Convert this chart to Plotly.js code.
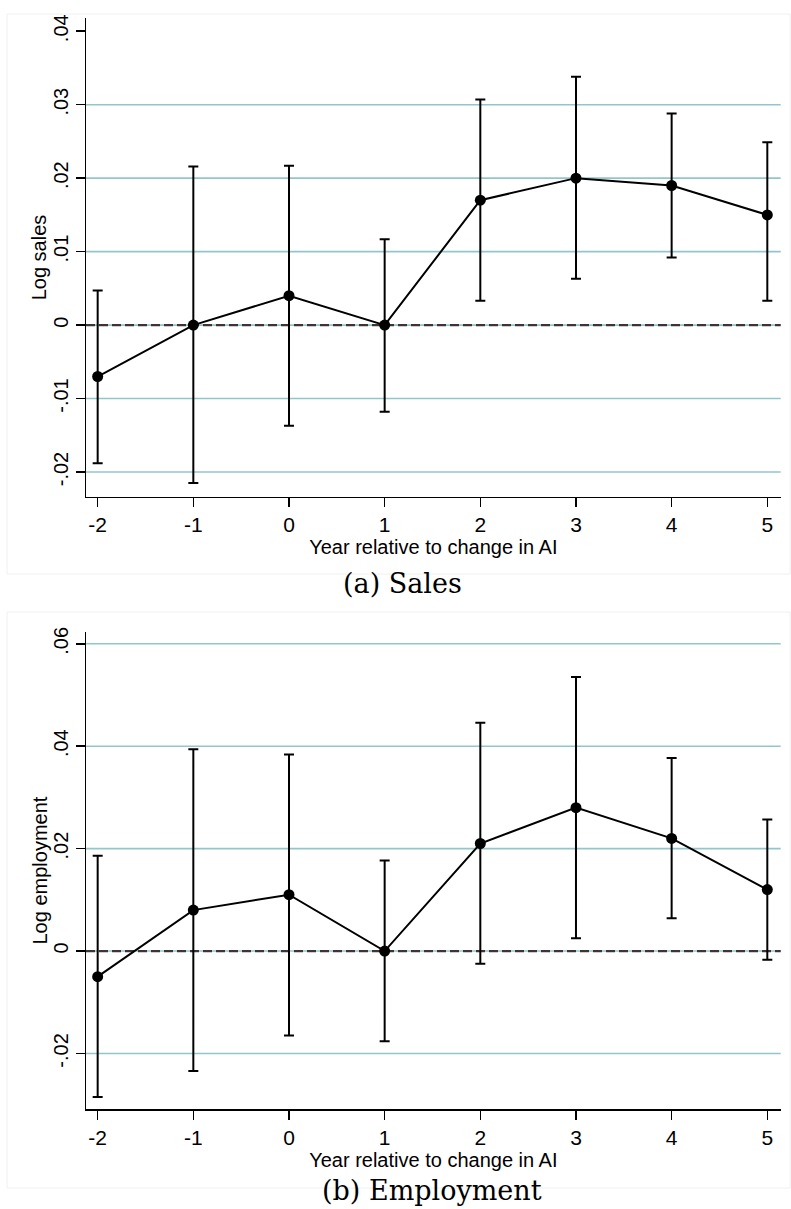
<!DOCTYPE html>
<html>
<head>
<meta charset="utf-8">
<script src="https://cdn.plot.ly/plotly-3.0.1.min.js"></script>
<style>html,body{margin:0;padding:0;background:#fff;}#chart{width:791px;height:1209px;}</style>
</head>
<body>
<div id="chart"></div>
<script>
// ---- data ----
const years = [-2, -1, 0, 1, 2, 3, 4, 5];

const salesCoef = [-0.0070, 0.0000, 0.0040, 0.0000, 0.0170, 0.0200, 0.0190, 0.0150];
const salesLow  = [-0.0188, -0.0215, -0.0137, -0.0118, 0.0033, 0.0063, 0.0092, 0.0033];
const salesHigh = [0.0047, 0.0216, 0.0217, 0.0117, 0.0307, 0.0338, 0.0288, 0.0249];

const empCoef = [-0.0050, 0.0080, 0.0110, 0.0000, 0.0210, 0.0280, 0.0220, 0.0120];
const empLow  = [-0.0285, -0.0234, -0.0165, -0.0176, -0.0025, 0.0025, 0.0064, -0.0017];
const empHigh = [0.0186, 0.0394, 0.0384, 0.0177, 0.0446, 0.0535, 0.0377, 0.0257];

const salesTickVals = [-0.02, -0.01, 0, 0.01, 0.02, 0.03, 0.04];
const salesTickText = ["-.02", "-.01", "0", ".01", ".02", ".03", ".04"];
const salesGrid = [-0.02, -0.01, 0, 0.01, 0.02, 0.03];

const empTickVals = [-0.02, 0, 0.02, 0.04, 0.06];
const empTickText = ["-.02", "0", ".02", ".04", ".06"];
const empGrid = [-0.02, 0, 0.02, 0.04, 0.06];

const xTitle = "Year relative to change in AI";
const salesTitle = "Log sales";
const empTitle = "Log employment";
const captionA = "(a) Sales";
const captionB = "(b) Employment";

// ---- build ----
function series(coef, lo, hi, xa, ya) {
  return {
    x: years, y: coef, xaxis: xa, yaxis: ya,
    type: 'scatter', mode: 'lines+markers',
    line: {color: '#000', width: 2},
    marker: {color: '#000', size: 11},
    error_y: {
      type: 'data', symmetric: false,
      array: coef.map((v, i) => hi[i] - v),
      arrayminus: coef.map((v, i) => v - lo[i]),
      color: '#000', thickness: 2, width: 5
    },
    hoverinfo: 'skip', showlegend: false
  };
}

const gridColor = '#93c6ca';
const shapes = [];
function addGrid(vals, xref, yref) {
  vals.forEach(v => shapes.push({type: 'line', xref: xref + ' domain', yref: yref,
    x0: 0, x1: 1, y0: v, y1: v, layer: 'below', line: {color: gridColor, width: 1.6}}));
  shapes.push({type: 'line', xref: xref + ' domain', yref: yref, x0: 0, x1: 1, y0: 0, y1: 0,
    layer: 'below', line: {color: '#3d3535', width: 2.2, dash: '9px,4px'}});
}
addGrid(salesGrid, 'x', 'y');
addGrid(empGrid, 'x2', 'y2');

// faint outer frames of the two panels
const H = 1209, W = 791;
shapes.push({type: 'rect', xref: 'paper', yref: 'paper', x0: 7 / W, x1: 790 / W, y0: 1 - 574 / H, y1: 1 - 14 / H,
  line: {color: '#f0f0f0', width: 1}, layer: 'below'});
shapes.push({type: 'rect', xref: 'paper', yref: 'paper', x0: 7 / W, x1: 790 / W, y0: 1 - 1188 / H, y1: 1 - 612 / H,
  line: {color: '#f0f0f0', width: 1}, layer: 'below'});

const sansFont = 'Liberation Sans, Arial, Helvetica, sans-serif';
const xDomain = [86 / W, 780.7 / W];
const xRange = [-2.122, 5.14];
const domA = [1 - 496.7 / H, 1 - 18 / H];
const domB = [1 - 1109.3 / H, 1 - 631.7 / H];

function xAxis(anchor) {
  return {
    anchor: anchor, domain: xDomain, range: xRange,
    tickvals: years, ticktext: years.map(String),
    ticks: 'outside', ticklen: 9, tickwidth: 1.5, tickcolor: '#000',
    showline: true, linecolor: '#000', linewidth: 1.5,
    showgrid: false, zeroline: false,
    tickfont: {family: sansFont, size: 21, color: '#000'},
    title: {text: xTitle, font: {family: sansFont, size: 20, color: '#000'}, standoff: 0},
    fixedrange: true
  };
}
function yAxis(anchor, domain, range, vals, text) {
  return {
    anchor: anchor, domain: domain, range: range,
    tickvals: vals, ticktext: text, tickangle: -90,
    ticks: 'outside', ticklen: 9, tickwidth: 1.5, tickcolor: '#000',
    showline: true, linecolor: '#000', linewidth: 1.5,
    showgrid: false, zeroline: false,
    tickfont: {family: sansFont, size: 20, color: '#000'},
    fixedrange: true
  };
}

function yTitle(text, dom) {
  return {text: text, xref: 'paper', yref: 'paper', x: 39 / W, y: (dom[0] + dom[1]) / 2,
    xanchor: 'center', yanchor: 'middle', textangle: -90, showarrow: false,
    font: {family: sansFont, size: 20, color: '#000'}};
}

const layout = {
  width: W, height: H,
  margin: {l: 0, r: 0, t: 0, b: 0},
  paper_bgcolor: '#fff', plot_bgcolor: 'rgba(0,0,0,0)',
  showlegend: false,
  xaxis: xAxis('y'),
  yaxis: yAxis('x', domA, [-0.02336, 0.0418], salesTickVals, salesTickText),
  xaxis2: xAxis('y2'),
  yaxis2: yAxis('x2', domB, [-0.0309, 0.06236], empTickVals, empTickText),
  shapes: shapes,
  annotations: [
    yTitle(salesTitle, domA),
    yTitle(empTitle, domB),
    {text: captionA, xref: 'paper', yref: 'paper', x: 402 / W, y: 1 - 583 / H, xanchor: 'center', yanchor: 'middle',
      showarrow: false, font: {family: 'DejaVu Serif, serif', size: 27, color: '#000'}},
    {text: captionB, xref: 'paper', yref: 'paper', x: 432 / W, y: 1 - 1190 / H, xanchor: 'center', yanchor: 'middle',
      showarrow: false, font: {family: 'DejaVu Serif, serif', size: 27, color: '#000'}}
  ]
};

const data = [
  series(salesCoef, salesLow, salesHigh, 'x', 'y'),
  series(empCoef, empLow, empHigh, 'x2', 'y2')
];

Plotly.newPlot('chart', data, layout, {staticPlot: true, displayModeBar: false});
</script>
</body>
</html>
